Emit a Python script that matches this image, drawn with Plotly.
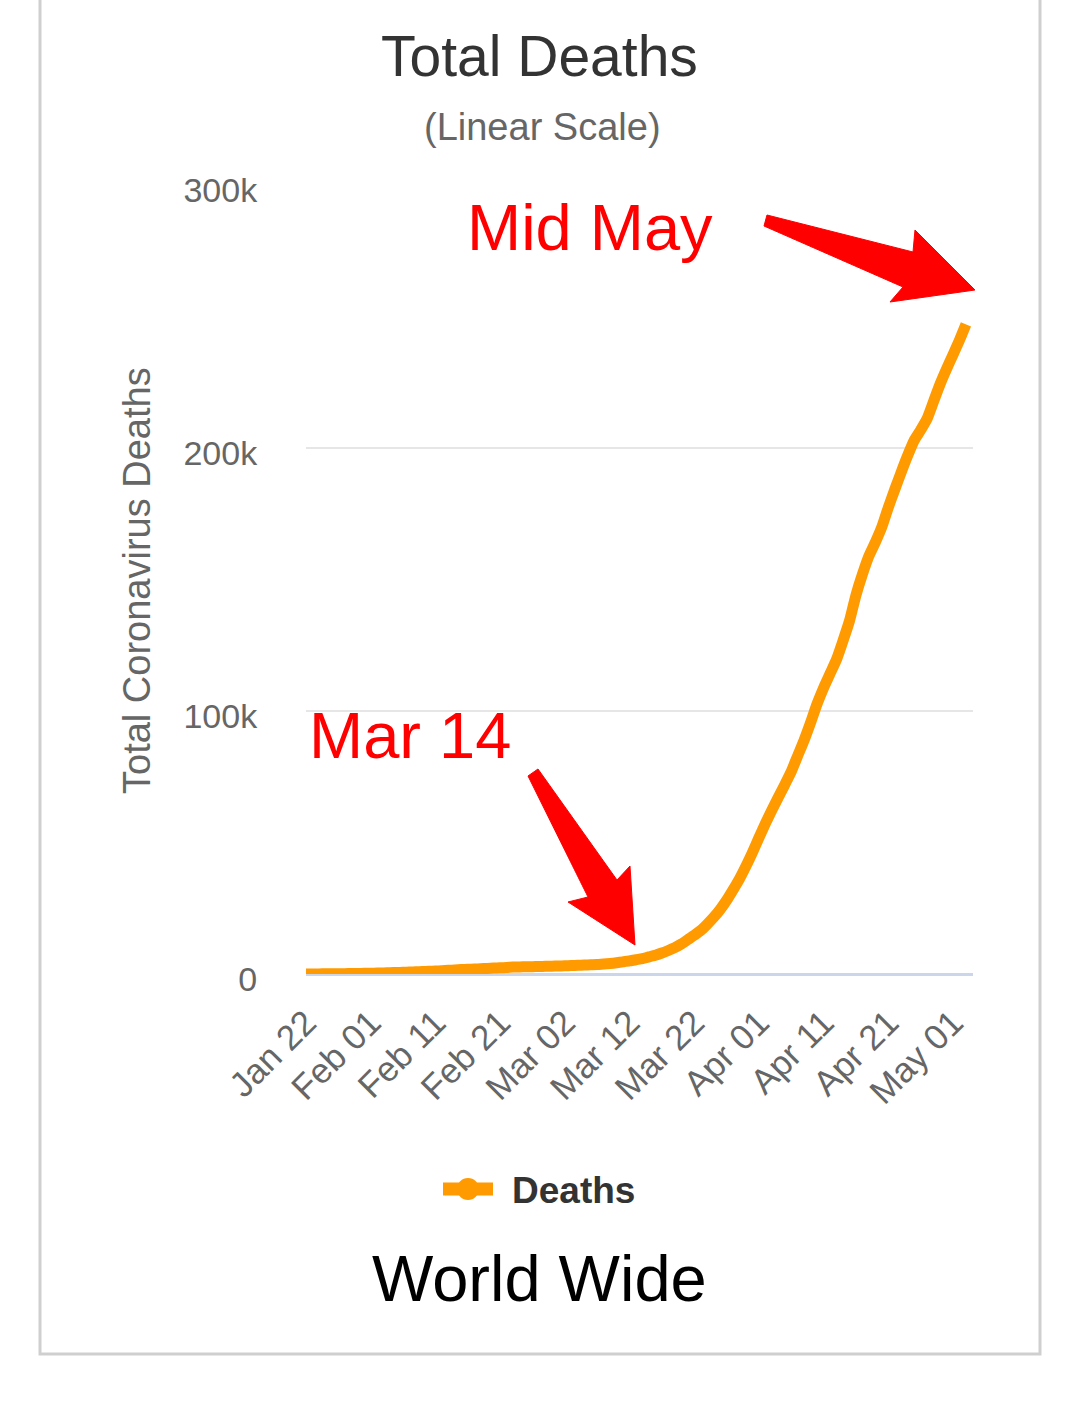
import plotly.graph_objects as go
import pandas as pd

# ---- data ----
start_date = "2020-01-22"
deaths = [
    17, 25, 41, 56, 80, 106, 132, 170, 213, 259,            # Jan 22 - Jan 31
    304, 362, 426, 492, 565, 638, 724, 813, 910, 1018,      # Feb 01 - Feb 10
    1115, 1261, 1383, 1526, 1669, 1775, 1873, 2009, 2126, 2247,  # Feb 11 - Feb 20
    2360, 2460, 2618, 2699, 2763, 2800, 2858, 2923, 2977,   # Feb 21 - Feb 29
    3050, 3117, 3202, 3285, 3387, 3494, 3599, 3827, 4025, 4296,  # Mar 01 - Mar 10
    4628, 4981, 5428, 5833, 6519, 7162, 7979, 8951, 10031, 11388,  # Mar 11 - Mar 20
    13043, 14710, 16514, 18902, 21500, 24500, 28000, 32000, 36200, 41000,  # Mar 21 - Mar 30
    46200, 51800, 57200, 62300, 67200, 72000, 77000, 83000, 89000, 95700,  # Mar 31 - Apr 09
    102743, 108802, 114222, 119623, 126716, 134258, 144044, 152001, 158935, 164158,  # Apr 10 - Apr 19
    169986, 177403, 184220, 190857, 197182, 202908, 206839, 211168, 217737, 224302,  # Apr 20 - Apr 29
    230056, 235475, 241000, 247000,                          # Apr 30 - May 03
]
dates = pd.date_range(start_date, periods=len(deaths), freq="D")

y_ticks = [0, 100000, 200000, 300000]
y_tick_labels = ["0", "100k", "200k", "300k"]

series_name = "Deaths"
title = "Total Deaths"
subtitle = "(Linear Scale)"
y_title = "Total Coronavirus Deaths"
footer = "World Wide"
note_top = "Mid May"
note_bottom = "Mar 14"

ORANGE = "#ff9a00"
RED = "#ff0000"
GRAY = "#666666"
FONT = "Liberation Sans, Arial, sans-serif"

W, H = 1092, 1402
L, R_EDGE, T, B_EDGE = 306, 973, 185, 974


def xp(px):
    return (px - L) / (R_EDGE - L)


def yp(py):
    return (B_EDGE - py) / (B_EDGE - T)


fig = go.Figure()
fig.add_trace(go.Scatter(
    x=dates, y=deaths, mode="lines", name=series_name,
    line=dict(color=ORANGE, width=11, shape="spline", smoothing=0.6), showlegend=False,
))

annotations = []


def text(t, px, py, size, color, bold=False, angle=0):
    annotations.append(dict(
        text=("<b>%s</b>" % t) if bold else t, x=xp(px), y=yp(py),
        xref="paper", yref="paper", showarrow=False,
        xanchor="center", yanchor="middle", textangle=angle,
        font=dict(family=FONT, size=size, color=color),
    ))


text(title, 539, 56, 57, "#333333")
text(subtitle, 542, 127, 38, GRAY)
text(y_title, 137, 581, 38, GRAY, angle=-90)
text(note_top, 590, 228, 65, RED)
text(note_bottom, 410, 735, 65, RED)
text(footer, 539, 1278, 65, "#000000")
annotations.append(dict(
    text="<b>%s</b>" % series_name, x=xp(510), y=yp(1190),
    xref="paper", yref="paper", showarrow=False,
    xanchor="left", yanchor="middle",
    font=dict(family=FONT, size=37, color="#333333"),
))


def path(points):
    return "M " + " L ".join("%f,%f" % (xp(a), yp(b)) for a, b in points) + " Z"


arrow_top = [(767, 215), (913, 252), (915, 230), (975, 290), (890, 302), (903, 287), (764, 226)]
arrow_bottom = [(528, 776), (538, 769), (617, 880), (630, 866), (635, 945), (568, 902), (588, 897)]

shapes = [
    dict(type="path", path=path(arrow_top), xref="paper", yref="paper",
         fillcolor=RED, line=dict(color=RED, width=1)),
    dict(type="path", path=path(arrow_bottom), xref="paper", yref="paper",
         fillcolor=RED, line=dict(color=RED, width=1)),
    # outer frame
    dict(type="rect", xref="paper", yref="paper",
         x0=xp(40), x1=xp(1040), y0=yp(1354), y1=yp(-10),
         line=dict(color="#cfcfcf", width=3), fillcolor="rgba(0,0,0,0)", layer="below"),
    # legend symbol
    dict(type="line", xref="paper", yref="paper",
         x0=xp(443), x1=xp(493), y0=yp(1189), y1=yp(1189),
         line=dict(color=ORANGE, width=13)),
    dict(type="circle", xref="paper", yref="paper",
         x0=xp(457), x1=xp(479), y0=yp(1200), y1=yp(1178),
         fillcolor=ORANGE, line=dict(color=ORANGE, width=0)),
]

x_end = pd.Timestamp(start_date) + pd.Timedelta(days=(R_EDGE - L) / 6.47)

fig.update_layout(
    width=W, height=H,
    margin=dict(l=L, r=W - R_EDGE, t=T, b=H - B_EDGE, pad=0),
    paper_bgcolor="white", plot_bgcolor="white",
    font=dict(family=FONT, color=GRAY),
    annotations=annotations, shapes=shapes,
    xaxis=dict(
        type="date", range=[pd.Timestamp(start_date), x_end],
        tick0=start_date, dtick=86400000 * 10, tickformat="%b %d",
        tickangle=-45, tickfont=dict(family=FONT, size=35, color=GRAY),
        showgrid=False, zeroline=False, showline=False,
        ticks="outside", ticklen=13, tickcolor="rgba(0,0,0,0)",
    ),
    yaxis=dict(
        range=[0, 300000], tickvals=y_ticks, ticktext=y_tick_labels,
        tickfont=dict(family=FONT, size=34, color=GRAY),
        showgrid=True, gridcolor="#e6e6e6", gridwidth=2,
        zeroline=True, zerolinecolor="#ccd6eb", zerolinewidth=3,
        showline=False, ticks="outside", ticklen=41, tickcolor="rgba(0,0,0,0)",
        ticklabelshift=5,
    ),
)

fig.write_html("out.html", config={"displayModeBar": False},
               post_script="document.body.style.margin='0';")
